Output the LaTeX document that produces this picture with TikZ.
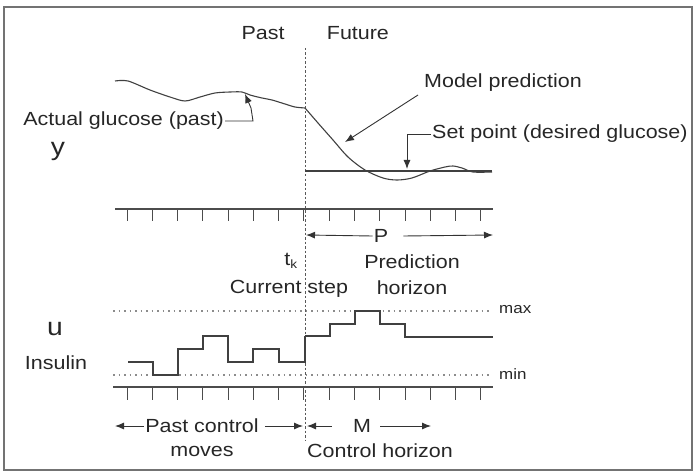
\documentclass[tikz,border=0pt]{standalone}
\usepackage{fontspec}
\setmainfont{Liberation Sans}[FakeStretch=1.13]
\usetikzlibrary{arrows.meta,positioning}

\begin{document}
\begin{tikzpicture}[x=1pt,y=-1pt,
  every node/.style={font=\fontsize{19}{21}\selectfont, text=black!85, inner sep=1pt},
  biglbl/.style={font=\fontsize{25}{27}\selectfont},
  smalllbl/.style={font=\fontsize{15}{16}\selectfont, anchor=west},
  curve/.style={line width=1.1pt, black!75},
  axis/.style={line width=1.3pt, black!70},
  limit/.style={black!45, line width=1.3pt, dash pattern=on 1.5pt off 4pt},
  pointer/.style={-{Latex[length=9pt,width=7pt]}, line width=0.9pt, black!80}]
  \useasboundingbox (0,0) rectangle (695,473);
  \draw[black!55, line width=2pt] (4,7) rectangle (692,470);

  % time now
  \draw[black!65, line width=1pt, dash pattern=on 2.5pt off 2pt] (305,48) -- (305,440);
  \node (past) at (263,33) {Past};
  \node[right=40pt of past] (future) {Future};

  % glucose, measured and predicted
  \draw[curve] plot[smooth, tension=0.5] coordinates {(115,81) (128,81) (150,90) (170,97) (185,101)
    (200,97) (215,93) (230,92) (242,92) (250,95) (262,98) (272,100) (285,104) (295,107) (305,108)};
  \draw[curve] plot[smooth, tension=0.5] coordinates {(305,108) (318,123) (333,140) (348,157) (365,170)
    (383,178) (397,180) (412,178) (430,171) (445,167) (453,166) (462,168) (473,172) (492,172)};
  \draw[curve, line width=1.3pt] (305,171) -- (492,171);

  \node[anchor=east] (actual) at (225,121) {Actual glucose (past)};
  \node[biglbl] (yvar) at (58,151) {y};
  \node[anchor=west] (model) at (423,83) {Model prediction};
  \node[anchor=west] (setp) at (431,134) {Set point (desired glucose)};
  \coordinate (actualtip) at (245,94);
  \coordinate (modeltip) at (345,142);
  \coordinate (setptip) at (407,169);
  \draw[pointer] (actual.east) -- (253,121) -- (251,108) -- (actualtip);
  \draw[pointer] (418,95) -- (modeltip);
  \draw[pointer] (setp.west) -| (setptip);

  % time axes
  \draw[axis] (115,209) -- (493,209);
  \draw[axis] (113,387) -- (493,387);
  \foreach \i in {0,...,14} {
    \draw[axis, line width=1pt] ({127+25.28*\i},209) -- ++(0,12);
    \draw[axis, line width=1pt] ({127+25.28*\i},387) -- ++(0,13);
  }

  % prediction horizon
  \node (P) at (381,236) {P};
  \draw[pointer] (P.west) -- (306,235);
  \draw[pointer] (P.east) ++(14,0) -- (493,235);
  \node (tk) at (291,261) {t\textsubscript{\fontsize{12}{12}\selectfont k}};
  \node (current) at (289,289) {Current step};
  \node[align=center, font=\fontsize{19}{26}\selectfont] (predh) at (412,275) {Prediction\\horizon};

  % insulin limits and moves
  \draw[limit] (113,311) -- (492,311);
  \draw[limit] (113,375) -- (492,375);
  \node[smalllbl] (maxlbl) at (498,310) {max};
  \node[smalllbl] (minlbl) at (498,374) {min};
  \node[biglbl] (uvar) at (55,329) {u};
  \node (insulin) at (56,363) {Insulin};
  \draw[curve, line width=1.3pt] (128,362) -| (153,375) -| (178,349) -| (203,336) -| (228,362)
    -| (253,349) -| (279,362) -| (305,336);
  \draw[curve, line width=1.3pt] (305,336) -| (330,324) -| (355,311) -| (380,324) -| (405,337) -- (493,337);

  % control horizon
  \node (pastc) at (202,426) {Past control};
  \node (moves) at (202,451) {moves};
  \draw[pointer] (pastc.west) -- (115,426);
  \draw[pointer] (pastc.east) ++(5,0) -- (303,426);
  \node (M) at (362,426) {M};
  \draw[pointer] (M.west) ++(-20,0) -- (307,426);
  \draw[pointer] (M.east) ++(8,0) -- (431,426);
  \node (ctrlh) at (380,451) {Control horizon};
\end{tikzpicture}
\end{document}
